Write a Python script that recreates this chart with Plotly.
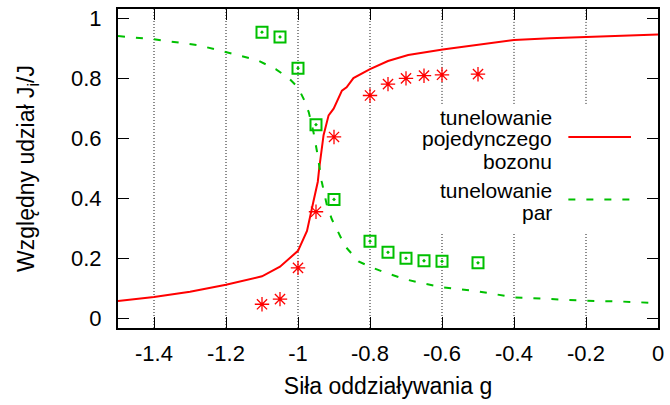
import plotly.graph_objects as go

# Theory curves: relative share of single-boson tunnelling and pair tunnelling
g_single = [-1.5, -1.4, -1.3, -1.2, -1.1, -1.05, -1.0, -0.975, -0.957, -0.945,
            -0.941, -0.929, -0.915, -0.901, -0.878, -0.865, -0.846, -0.823, -0.8,
            -0.75, -0.694, -0.598, -0.5, -0.4, -0.3, -0.2, -0.1, 0.0]
j_single = [0.058, 0.071, 0.089, 0.112, 0.14, 0.172, 0.225, 0.291, 0.39, 0.455,
            0.50, 0.61, 0.676, 0.698, 0.758, 0.769, 0.80, 0.816, 0.83,
            0.857, 0.877, 0.895, 0.912, 0.927, 0.933, 0.937, 0.941, 0.945]

g_pair = [-1.5, -1.4, -1.274, -1.183, -1.114, -1.062, -1.026, -1.0, -0.984, -0.97,
          -0.957, -0.947, -0.934, -0.92, -0.906, -0.869, -0.832, -0.8, -0.759,
          -0.704, -0.667, -0.6, -0.5, -0.4, -0.3, -0.2, -0.1, 0.0]
j_pair = [0.94, 0.929, 0.909, 0.882, 0.86, 0.83, 0.80, 0.769, 0.73, 0.686,
          0.62, 0.554, 0.455, 0.378, 0.33, 0.24, 0.19, 0.172, 0.153,
          0.131, 0.12, 0.104, 0.09, 0.07, 0.064, 0.059, 0.056, 0.051]

# Numerical points
g_points = [-1.1, -1.05, -1.0, -0.95, -0.9, -0.8, -0.75, -0.7, -0.65, -0.6, -0.5]
single_points = [0.047, 0.064, 0.168, 0.355, 0.604, 0.742, 0.78, 0.799, 0.808, 0.811, 0.813]
pair_points = [0.953, 0.937, 0.833, 0.645, 0.396, 0.257, 0.22, 0.2, 0.192, 0.19, 0.185]

x_ticks = [-1.4, -1.2, -1.0, -0.8, -0.6, -0.4, -0.2, 0.0]
x_tick_text = ["-1.4", "-1.2", "-1", "-0.8", "-0.6", "-0.4", "-0.2", "0"]
y_ticks = [0, 0.2, 0.4, 0.6, 0.8, 1.0]
y_tick_text = ["0", "0.2", "0.4", "0.6", "0.8", "1"]

key_labels = [["tunelowanie", "pojedynczego", "bozonu"], ["tunelowanie", "par"]]

RED = "#ff0000"
GREEN = "#00c000"
FONT = "Liberation Sans, Arial, sans-serif"
FS_KEY = 21
FS_TICK = 22
FS_TITLE = 23

X_RANGE = [-1.5, 0.0]
Y_RANGE = [-0.032, 1.03]

fig = go.Figure()
fig.add_trace(go.Scatter(x=g_single, y=j_single, mode="lines",
                         line=dict(color=RED, width=2), showlegend=False))
fig.add_trace(go.Scatter(x=g_pair, y=j_pair, mode="lines",
                         line=dict(color=GREEN, width=2, dash="7px,11px"),
                         showlegend=False))
fig.add_trace(go.Scatter(x=g_points, y=single_points, mode="markers",
                         marker=dict(symbol="asterisk-open", size=12, color=RED,
                                     line=dict(color=RED, width=1.3)),
                         showlegend=False))
fig.add_trace(go.Scatter(x=g_points, y=pair_points, mode="markers",
                         marker=dict(symbol="square-open-dot", size=11, color=GREEN,
                                     line=dict(color=GREEN, width=2)),
                         showlegend=False))

# Dotted vertical grid, interrupted where the key sits
key_x0, key_y0, key_y1 = -0.65, 0.285, 0.714
shapes = []
grid_line = dict(color="rgba(0,0,0,0.9)", width=1, dash="1px,2px")
for xv in x_ticks[:-1]:
    if xv > key_x0:
        segs = [(Y_RANGE[0], key_y0), (key_y1, Y_RANGE[1])]
    else:
        segs = [(Y_RANGE[0], Y_RANGE[1])]
    for y0, y1 in segs:
        shapes.append(dict(type="line", xref="x", yref="y", x0=xv, x1=xv,
                           y0=y0, y1=y1, line=grid_line, layer="below"))

# Key samples
shapes.append(dict(type="line", xref="x", yref="y", x0=-0.249, x1=-0.075,
                   y0=0.604, y1=0.604, line=dict(color=RED, width=2)))
shapes.append(dict(type="line", xref="x", yref="y", x0=-0.249, x1=-0.075,
                   y0=0.396, y1=0.396, line=dict(color=GREEN, width=2, dash="7px,11px")))

annotations = []
key_line_y = [[0.670, 0.598, 0.522], [0.426, 0.354]]
for lines, ys in zip(key_labels, key_line_y):
    for txt, yv in zip(lines, ys):
        annotations.append(dict(x=-0.288, y=yv, xref="x", yref="y", text=txt,
                                showarrow=False, xanchor="right", yanchor="middle",
                                font=dict(family=FONT, size=FS_KEY, color="black")))

fig.update_layout(
    width=670, height=405,
    margin=dict(l=118, r=9, t=6, b=77),
    paper_bgcolor="white", plot_bgcolor="white",
    font=dict(family=FONT, size=FS_TICK, color="black"),
    shapes=shapes, annotations=annotations,
    xaxis=dict(range=X_RANGE, tickvals=x_ticks, ticktext=x_tick_text,
               ticks="inside", ticklen=11, tickwidth=1, tickcolor="black",
               showline=True, linewidth=2, linecolor="black", mirror="ticks",
               showgrid=False, zeroline=False, ticklabelstandoff=5,
               tickfont=dict(family=FONT, size=FS_TICK),
               title=dict(text="Siła oddziaływania g", standoff=12,
                          font=dict(family=FONT, size=FS_TITLE))),
    yaxis=dict(range=Y_RANGE, tickvals=y_ticks, ticktext=y_tick_text,
               ticks="inside", ticklen=11, tickwidth=1, tickcolor="black",
               showline=True, linewidth=2, linecolor="black", mirror="ticks",
               showgrid=False, zeroline=False, ticklabelstandoff=10,
               tickfont=dict(family=FONT, size=FS_TICK),
               title=dict(text="Względny udział J<sub>i</sub>/J", standoff=30,
                          font=dict(family=FONT, size=FS_TITLE))),
)

fig.write_html("out.html")
